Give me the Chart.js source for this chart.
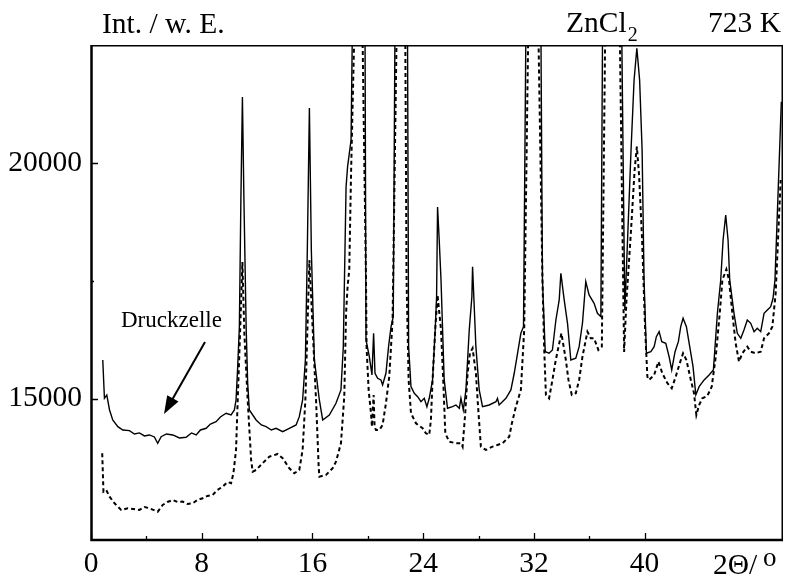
<!DOCTYPE html>
<html><head><meta charset="utf-8">
<script src="https://cdn.jsdelivr.net/npm/chart.js@4.4.0/dist/chart.umd.min.js"></script>
<style>html,body{margin:0;padding:0;background:#fff}#wrap{width:787px;height:579px}</style>
</head><body><div id="wrap"><canvas id="c" width="787" height="579"></canvas></div>
<script>
// 2Theta (degrees) and intensity values
const solidX = [0.85,0.97,1.14,1.34,1.57,1.94,2.30,2.78,3.14,3.50,
3.86,4.22,4.58,4.82,5.07,5.45,5.91,6.39,6.87,7.26,
7.60,7.91,8.32,8.63,9.04,9.35,9.76,10.12,10.36,10.48,
10.60,10.72,10.83,10.94,11.05,11.21,11.32,11.44,11.93,12.31,
12.65,13.03,13.37,13.85,14.33,14.82,15.05,15.29,15.49,15.63,
15.78,15.92,16.14,16.50,16.74,17.22,17.70,18.06,18.23,18.43,
18.54,18.79,18.88,19.35,19.80,19.87,20.11,20.30,20.42,20.52,
20.71,20.95,21.07,21.31,21.50,21.68,21.84,21.96,22.42,22.87,
22.95,23.12,23.36,23.60,23.84,24.08,24.27,24.44,24.68,24.87,
24.97,25.04,25.16,25.29,25.52,25.76,26.12,26.37,26.61,26.73,
26.90,27.09,27.33,27.52,27.57,27.81,28.05,28.29,28.77,29.26,
29.37,29.49,29.98,30.34,30.58,30.82,31.06,31.25,31.42,31.95,
32.51,32.62,32.82,33.10,33.34,33.59,33.83,33.95,34.19,34.43,
34.67,35.03,35.27,35.51,35.75,35.99,36.35,36.59,36.84,36.96,
37.65,38.35,38.57,38.74,39.02,39.24,39.44,39.64,39.82,39.96,
40.13,40.45,40.69,40.85,41.05,41.24,41.53,41.77,41.96,42.20,
42.44,42.61,42.78,43.02,43.26,43.50,43.70,43.94,44.30,44.66,
44.97,45.26,45.50,45.67,45.86,46.03,46.15,46.46,46.70,46.95,
47.18,47.42,47.67,47.91,48.14,48.39,48.63,48.87,49.11,49.28,
49.42,49.88];
const solidY = [15819,15006,15076,14758,14546,14404,14334,14319,14249,14271,
14207,14228,14186,14052,14192,14249,14228,14164,14179,14271,
14228,14334,14370,14461,14510,14610,14688,14652,14758,14970,
15677,16525,19212,21397,19212,16525,15331,14758,14546,14440,
14404,14334,14370,14298,14370,14440,14616,14970,15819,18152,
21164,18152,15819,14970,14546,14652,14900,15183,16101,19495,
19919,20485,22700,30000,22700,16243,15889,15501,16385,15537,
15431,15395,15289,15537,16101,16525,16737,22700,30000,22700,
16101,15253,15113,15041,14934,15006,14828,15006,15395,16455,
17161,19064,18364,17516,15395,14794,14828,14864,14794,15006,
14758,15183,16455,17161,17798,16101,15183,14828,14864,14934,
15006,14864,15006,15183,15537,15961,16385,16525,22700,30000,
22700,17516,15995,15961,16031,16667,17092,17658,17092,16597,
15819,15855,16101,16597,17480,17198,17021,16809,16737,22700,
30000,22700,16879,18152,20273,21758,22430,21758,20273,17516,
15961,15995,16101,16313,16419,16207,16173,15889,15607,15995,
16207,16525,16703,16525,16101,15677,15077,15253,15395,15501,
15607,16809,17516,18364,18894,18364,17516,16809,16385,16279,
16455,16667,16597,16419,16491,16419,16809,16879,16949,17127,
17516,21297];
const dashedX = [0.81,0.90,1.10,1.34,1.70,2.18,2.66,3.07,3.50,3.86,
4.22,4.82,5.18,5.52,5.91,6.25,6.63,6.97,7.35,7.69,
8.07,8.41,8.79,9.13,9.52,9.86,10.12,10.29,10.48,10.60,
10.77,10.94,11.08,11.32,11.57,11.68,11.93,12.40,12.89,13.49,
13.85,14.33,14.69,15.05,15.29,15.49,15.78,16.03,16.26,16.45,
16.50,16.98,17.46,17.70,18.06,18.30,18.43,18.54,18.66,18.79,
19.02,19.35,19.62,19.87,19.91,20.06,20.23,20.30,20.42,20.49,
20.59,20.83,21.07,21.31,21.55,21.79,22.08,22.42,22.71,22.80,
22.95,23.12,23.48,23.96,24.20,24.44,24.56,24.68,24.87,25.04,
25.29,25.45,25.60,25.88,26.37,26.73,26.85,27.04,27.21,27.38,
27.57,27.81,28.00,28.17,28.53,29.01,29.37,29.73,30.22,30.41,
30.70,31.06,31.30,31.59,31.95,32.33,32.62,32.74,32.87,33.10,
33.34,33.54,33.78,33.99,34.31,34.50,34.74,35.03,35.27,35.51,
35.87,36.11,36.35,36.66,36.91,37.15,37.65,38.21,38.52,38.69,
39.02,39.28,39.44,39.60,39.82,40.04,40.20,40.32,40.69,41.00,
41.28,41.65,41.96,42.25,42.54,42.78,43.02,43.34,43.57,43.74,
43.94,44.17,44.53,44.85,45.14,45.43,45.62,45.91,46.10,46.34,
46.58,46.82,47.06,47.42,47.67,48.03,48.39,48.63,48.99,49.23,
49.47,49.83];
const dashedY = [13840,13026,13062,12920,12779,12637,12673,12659,12637,12701,
12673,12601,12743,12807,12849,12807,12814,12765,12779,12849,
12885,12934,12955,13062,13132,13231,13204,13416,13910,14970,
16385,17897,16385,14970,13698,13450,13486,13628,13768,13825,
13734,13522,13416,13486,13910,14970,17940,16392,14970,13556,
13344,13380,13522,13662,14052,15041,16809,17374,17728,19779,
22700,30000,22700,17516,16101,15183,14688,14404,15077,14404,
14334,14334,14440,14900,15465,16667,22700,30000,22700,17516,
15395,14688,14476,14370,14264,14228,14546,15395,16455,17197,
16455,15395,14264,14086,14052,14052,13980,14688,15537,15961,
16067,15537,14688,13980,13910,13980,14016,14052,14192,14476,
14828,15183,16455,22700,30000,22700,17516,16101,15077,15006,
15395,15749,16101,16385,15819,15395,15077,15113,15395,15889,
16419,16279,16279,16031,16101,22700,30000,22700,15989,17092,
18576,19849,20343,19743,18364,16455,15465,15395,15501,15783,
15537,15325,15219,15465,15749,15961,15819,15395,15113,14652,
14864,15006,15055,15253,15889,16809,17516,17743,17516,16809,
16173,15783,15961,16101,15995,15961,15995,16279,16385,16525,
17234,19637];
const xTickValues = [0, 8, 16, 24, 32, 40];
const xMinorTicks = [4, 12, 20, 28, 36];
const yTickValues = [15000, 20000];
const yMinorTicks = [17500];

const serif = '"Liberation Serif", "Times New Roman", serif';

const annot = {
  id: 'annot',
  afterDraw(chart) {
    const {ctx, chartArea: a, scales: {x, y}} = chart;
    ctx.save();
    ctx.strokeStyle = '#000'; ctx.fillStyle = '#000';
    // thin top and right frame
    ctx.lineWidth = 1.5;
    ctx.beginPath();
    ctx.moveTo(a.left, a.top + 0.75); ctx.lineTo(a.right, a.top + 0.75);
    ctx.moveTo(a.right - 0.75, a.top); ctx.lineTo(a.right - 0.75, a.bottom);
    ctx.stroke();
    // thick left and bottom axes
    ctx.lineWidth = 2.5;
    ctx.beginPath();
    ctx.moveTo(a.left + 0.5, a.top); ctx.lineTo(a.left + 0.5, a.bottom + 1.2);
    ctx.moveTo(a.left - 0.7, a.bottom); ctx.lineTo(a.right, a.bottom);
    ctx.stroke();
    // inward ticks
    ctx.lineWidth = 1.3;
    ctx.beginPath();
    xTickValues.forEach(v => { const px = Math.round(x.getPixelForValue(v)) + 0.5; ctx.moveTo(px, a.bottom); ctx.lineTo(px, a.bottom - 7); });
    xMinorTicks.forEach(v => { const px = Math.round(x.getPixelForValue(v)) + 0.5; ctx.moveTo(px, a.bottom); ctx.lineTo(px, a.bottom - 4); });
    yTickValues.forEach(v => { const py = Math.round(y.getPixelForValue(v)) + 0.5; ctx.moveTo(a.left, py); ctx.lineTo(a.left + 7, py); });
    yMinorTicks.forEach(v => { const py = Math.round(y.getPixelForValue(v)) + 0.5; ctx.moveTo(a.left, py); ctx.lineTo(a.left + 3, py); });
    ctx.stroke();
    // texts
    ctx.textBaseline = 'alphabetic'; ctx.textAlign = 'left';
    ctx.font = '29.5px ' + serif;
    ctx.fillText('Int. / w. E.', 102, 33);
    const zn = 'ZnCl';
    ctx.fillText(zn, 566, 32);
    const znEnd = 566 + ctx.measureText(zn).width;
    ctx.fillText('723 K', 708, 32);
    ctx.fillText('2\u0398/', 713, 574);
    ctx.font = '20px ' + serif;
    ctx.fillText('2', znEnd + 1, 41);
    ctx.font = '27px ' + serif;
    ctx.fillText('o', 763, 566);
    ctx.font = '23px ' + serif;
    ctx.fillText('Druckzelle', 121, 327);
    // arrow
    ctx.lineWidth = 2;
    ctx.beginPath(); ctx.moveTo(205, 342); ctx.lineTo(172, 400); ctx.stroke();
    ctx.beginPath(); ctx.moveTo(164, 414); ctx.lineTo(178.5, 401.6); ctx.lineTo(167.2, 395.2); ctx.closePath(); ctx.fill();
    ctx.restore();
  }
};

const toPts = (xs, ys) => xs.map((v, i) => ({x: v, y: ys[i]}));

new Chart(document.getElementById('c'), {
  type: 'line',
  data: {
    datasets: [
      {label: 'ZnCl2', data: toPts(solidX, solidY), borderColor: '#000', borderWidth: 1.4, pointRadius: 0, tension: 0, fill: false},
      {label: 'Druckzelle', data: toPts(dashedX, dashedY), borderColor: '#000', borderWidth: 2, borderDash: [4, 3], pointRadius: 0, tension: 0, fill: false}
    ]
  },
  options: {
    responsive: false, animation: false, devicePixelRatio: 1,
    layout: {padding: {top: 45, right: 4, left: 0, bottom: 0}},
    plugins: {legend: {display: false}, tooltip: {enabled: false}},
    scales: {
      x: {
        type: 'linear', min: 0, max: 50,
        grid: {display: false, drawTicks: false}, border: {display: false},
        afterBuildTicks: s => { s.ticks = xTickValues.map(v => ({value: v})); },
        afterFit: s => { s.height = 39; },
        ticks: {color: '#000', font: {family: serif, size: 29.5}, padding: 7, maxRotation: 0, autoSkip: false, callback: v => String(v)}
      },
      y: {
        type: 'linear', min: 12000, max: 22500,
        grid: {display: false, drawTicks: false}, border: {display: false},
        afterBuildTicks: s => { s.ticks = yTickValues.map(v => ({value: v})); },
        afterFit: s => { s.width = 91; },
        ticks: {color: '#000', font: {family: serif, size: 29.5}, padding: 9, callback: v => String(v)}
      }
    }
  },
  plugins: [annot]
});
</script>
</body></html>
